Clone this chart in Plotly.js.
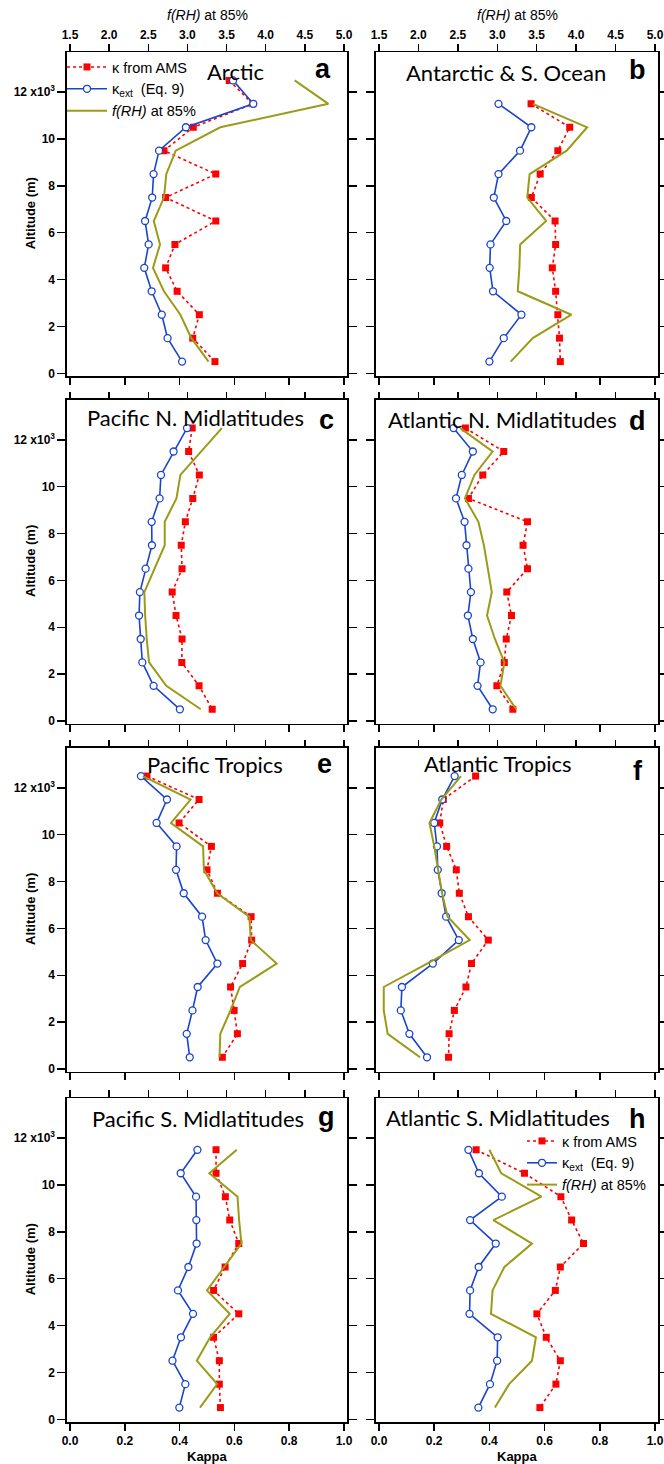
<!DOCTYPE html>
<html>
<head>
<meta charset="utf-8">
<script src="https://cdn.plot.ly/plotly-3.0.1.min.js"></script>
<style>html,body{margin:0;padding:0;background:#fff;}#chart{width:664px;height:1464px;}</style>
</head>
<body>
<div id="chart"></div>
<script>
// ---------------- DATA ----------------
const ALT13 = [12500, 11500, 10500, 9500, 8500, 7500, 6500, 5500, 4500, 3500, 2500, 1500, 500];
const ALT12 = [11500, 10500, 9500, 8500, 7500, 6500, 5500, 4500, 3500, 2500, 1500, 500];

// a  Arctic
const arcticAMS = [0.581, 0.667, 0.450, 0.343, 0.532, 0.349, 0.532, 0.383, 0.349, 0.391, 0.472, 0.448, 0.529];
const arcticExt = [0.595, 0.669, 0.423, 0.325, 0.305, 0.300, 0.274, 0.287, 0.271, 0.298, 0.335, 0.356, 0.409];
const arcticFRH = [4.37, 4.80, 3.42, 2.85, 2.73, 2.70, 2.57, 2.65, 2.56, 2.70, 2.91, 3.05, 3.27];
// b  Antarctic & S. Ocean
const antarcticAMS = [0.551, 0.691, 0.648, 0.584, 0.552, 0.638, 0.640, 0.628, 0.640, 0.648, 0.654, 0.657];
const antarcticExt = [0.433, 0.552, 0.511, 0.433, 0.416, 0.461, 0.404, 0.401, 0.413, 0.516, 0.452, 0.400];
const antarcticFRH = [3.45, 4.14, 3.88, 3.41, 3.38, 3.62, 3.29, 3.28, 3.26, 3.94, 3.45, 3.17];
// c  Pacific N. Midlatitudes
const pacNAMS = [0.446, 0.433, 0.472, 0.448, 0.421, 0.406, 0.409, 0.373, 0.387, 0.409, 0.408, 0.471, 0.519];
const pacNExt = [0.427, 0.378, 0.332, 0.327, 0.298, 0.299, 0.276, 0.255, 0.252, 0.258, 0.264, 0.305, 0.401];
const pacNFRH = [3.44, 3.17, 2.91, 2.86, 2.71, 2.71, 2.58, 2.45, 2.46, 2.48, 2.51, 2.73, 3.17];
// d  Atlantic N. Midlatitudes
const atlNAMS = [0.313, 0.452, 0.376, 0.324, 0.538, 0.522, 0.538, 0.463, 0.480, 0.461, 0.454, 0.427, 0.485];
const atlNExt = [0.270, 0.340, 0.300, 0.279, 0.310, 0.317, 0.324, 0.333, 0.322, 0.340, 0.368, 0.357, 0.412];
const atlNFRH = [2.53, 2.94, 2.71, 2.59, 2.76, 2.83, 2.88, 2.93, 2.87, 2.97, 3.09, 3.04, 3.24];
// e  Pacific Tropics
const pacTAMS = [0.281, 0.471, 0.398, 0.516, 0.500, 0.538, 0.661, 0.663, 0.630, 0.586, 0.599, 0.611, 0.556];
const pacTExt = [0.259, 0.354, 0.316, 0.389, 0.387, 0.415, 0.482, 0.495, 0.538, 0.466, 0.447, 0.426, 0.437];
const pacTFRH = [2.43, 3.04, 2.79, 3.20, 3.21, 3.38, 3.79, 3.81, 4.14, 3.67, 3.55, 3.42, 3.41];
// f  Atlantic Tropics
const atlTAMS = [0.350, 0.233, 0.220, 0.245, 0.280, 0.291, 0.324, 0.396, 0.335, 0.315, 0.273, 0.254, 0.252];
const atlTExt = [0.274, 0.229, 0.200, 0.210, 0.213, 0.227, 0.243, 0.289, 0.195, 0.083, 0.079, 0.110, 0.174];
const atlTFRH = [2.54, 2.29, 2.14, 2.20, 2.25, 2.30, 2.37, 2.65, 2.11, 1.56, 1.56, 1.61, 2.02];
// g  Pacific S. Midlatitudes
const pacSAMS = [0.533, 0.533, 0.567, 0.583, 0.616, 0.566, 0.524, 0.616, 0.524, 0.545, 0.545, 0.549];
const pacSExt = [0.465, 0.404, 0.460, 0.461, 0.462, 0.432, 0.394, 0.449, 0.405, 0.374, 0.421, 0.399];
const pacSFRH = [3.63, 3.28, 3.64, 3.66, 3.69, 3.47, 3.25, 3.54, 3.29, 3.12, 3.38, 3.16];
// h  Atlantic S. Midlatitudes
const atlSAMS = [0.352, 0.527, 0.659, 0.698, 0.741, 0.657, 0.639, 0.572, 0.606, 0.657, 0.641, 0.583];
const atlSExt = [0.324, 0.362, 0.445, 0.330, 0.423, 0.361, 0.330, 0.328, 0.430, 0.428, 0.402, 0.360];
const atlSFRH = [2.90, 3.05, 3.56, 2.95, 3.44, 3.09, 2.94, 2.92, 3.49, 3.44, 3.15, 2.97];

const panelTitles = ['Arctic', 'Antarctic & S. Ocean', 'Pacific N. Midlatitudes', 'Atlantic N. Midlatitudes',
                     'Pacific Tropics', 'Atlantic Tropics', 'Pacific S. Midlatitudes', 'Atlantic S. Midlatitudes'];
const panelLetters = ['a', 'b', 'c', 'd', 'e', 'f', 'g', 'h'];
const yTickVals = [0, 2000, 4000, 6000, 8000, 10000, 12000];
const yTickText = ['0', '2', '4', '6', '8', '10', '12 x10<sup>3</sup>'];
const kappaTicks = [0, 0.2, 0.4, 0.6, 0.8, 1.0];
const frhTicks = [1.5, 2.0, 2.5, 3.0, 3.5, 4.0, 4.5, 5.0];
const seriesNames = ['κ from AMS', 'κ<sub>ext</sub>  (Eq. 9)', '<i>f(RH)</i> at 85%'];

const panels = [
  {alt: ALT13, ams: arcticAMS, ext: arcticExt, frh: arcticFRH},
  {alt: ALT12, ams: antarcticAMS, ext: antarcticExt, frh: antarcticFRH},
  {alt: ALT13, ams: pacNAMS, ext: pacNExt, frh: pacNFRH},
  {alt: ALT13, ams: atlNAMS, ext: atlNExt, frh: atlNFRH},
  {alt: ALT13, ams: pacTAMS, ext: pacTExt, frh: pacTFRH},
  {alt: ALT13, ams: atlTAMS, ext: atlTExt, frh: atlTFRH},
  {alt: ALT12, ams: pacSAMS, ext: pacSExt, frh: pacSFRH},
  {alt: ALT12, ams: atlSAMS, ext: atlSExt, frh: atlSFRH}
];

// ---------------- LAYOUT GEOMETRY ----------------
const W = 664, H = 1464;
const colX = [[67, 347], [376, 658]];           // frame left/right (px)
const rowZero = [373.3, 721, 1069, 1419.3];      // pixel of altitude 0
const pxPerM = 0.023433;
const yRange = [-120, 13700];
const pad = 3 / 274;
const kRange = [-pad, 1 + pad];
const fRange = [1.5 - 3.5 * pad, 5 + 3.5 * pad];

const titlePos = [[235, 71], [506, 72], [195, 417], [502, 419], [215, 764], [498, 763], [198, 1118], [498, 1117]];
const letterPos = [[333, 69], [648, 70], [336, 420], [648, 421], [334, 764], [645, 771], [337, 1117], [648, 1119]];

const RED = '#ff0000', BLUE = '#1b44cc', OLIVE = '#9c9a18';
const tickFont = {family: 'Liberation Sans, Arial, sans-serif', size: 12, color: '#000', weight: 'bold'};
const legendFont = {family: 'Liberation Sans, Arial, sans-serif', size: 14.5, color: '#000'};

const traces = [];
const layout = {
  width: W, height: H,
  margin: {l: 0, r: 0, t: 0, b: 0},
  paper_bgcolor: '#fff', plot_bgcolor: '#fff',
  showlegend: true,
  annotations: [],
  legend: {
    x: 62 / W, y: 1 - 51 / H, xanchor: 'left', yanchor: 'top',
    bgcolor: 'rgba(0,0,0,0)', borderwidth: 0, tracegroupgap: 0, itemwidth: 40,
    font: legendFont
  },
  legend2: {
    x: 522 / W, y: 1 - 1125 / H, xanchor: 'left', yanchor: 'top',
    bgcolor: 'rgba(0,0,0,0)', borderwidth: 0, tracegroupgap: 0, itemwidth: 30,
    font: legendFont
  }
};

panels.forEach((p, i) => {
  const row = Math.floor(i / 2), col = i % 2;
  const xk = 2 * i + 1, xf = 2 * i + 2, yi = i + 1;
  const xkName = 'x' + (xk === 1 ? '' : xk), xfName = 'x' + xf, yName = 'y' + (yi === 1 ? '' : yi);
  const top = rowZero[row] - yRange[1] * pxPerM;
  const bot = rowZero[row] - yRange[0] * pxPerM;
  const yDom = [1 - bot / H, 1 - top / H];
  const xDom = [colX[col][0] / W, colX[col][1] / W];

  layout['xaxis' + (xk === 1 ? '' : xk)] = {
    domain: xDom, anchor: yName, range: kRange, side: 'bottom',
    showline: true, linecolor: '#000', linewidth: 1.6, mirror: true,
    ticks: 'outside', ticklen: 7, tickwidth: 1.5, tickcolor: '#000',
    tickvals: kappaTicks, ticktext: kappaTicks.map(v => v.toFixed(1)),
    showticklabels: row === 3, tickfont: tickFont,
    showgrid: false, zeroline: false, fixedrange: true
  };
  layout['xaxis' + xf] = {
    overlaying: xkName, anchor: yName, range: fRange, side: 'top',
    showline: false, ticks: 'outside', ticklen: 7, tickwidth: 1.5, tickcolor: '#000',
    tickvals: frhTicks, ticktext: frhTicks.map(v => v.toFixed(1)),
    showticklabels: row === 0, tickfont: tickFont,
    showgrid: false, zeroline: false, fixedrange: true
  };
  layout['yaxis' + (yi === 1 ? '' : yi)] = {
    domain: yDom, anchor: xkName, range: yRange,
    showline: true, linecolor: '#000', linewidth: 1.6, mirror: 'ticks',
    ticks: 'outside', ticklen: 8, tickwidth: 1.5, tickcolor: '#000',
    tickvals: yTickVals, ticktext: yTickText,
    showticklabels: col === 0, tickfont: tickFont,
    showgrid: false, zeroline: false, fixedrange: true
  };

  const legId = i === 7 ? 'legend2' : 'legend';
  const showLeg = (i === 0 || i === 7);

  traces.push({
    type: 'scatter', mode: 'lines', x: p.frh, y: p.alt, xaxis: xfName, yaxis: yName,
    name: seriesNames[2], legend: legId, showlegend: showLeg, legendrank: 3,
    line: {color: OLIVE, width: 2}, hoverinfo: 'skip'
  });
  traces.push({
    type: 'scatter', mode: 'lines+markers', x: p.ams, y: p.alt, xaxis: xkName, yaxis: yName,
    name: seriesNames[0], legend: legId, showlegend: showLeg, legendrank: 1,
    line: {color: RED, width: 1.6, dash: 'dot'},
    marker: {symbol: 'square', size: 7, color: RED, line: {width: 0}}, hoverinfo: 'skip'
  });
  traces.push({
    type: 'scatter', mode: 'lines+markers', x: p.ext, y: p.alt, xaxis: xkName, yaxis: yName,
    name: seriesNames[1], legend: legId, showlegend: showLeg, legendrank: 2,
    line: {color: BLUE, width: 1.6},
    marker: {symbol: 'circle', size: 7, color: '#fff', line: {color: BLUE, width: 1.3}}, hoverinfo: 'skip'
  });

  layout.annotations.push({
    xref: 'paper', yref: 'paper', x: titlePos[i][0] / W, y: 1 - titlePos[i][1] / H,
    xanchor: 'center', yanchor: 'middle', showarrow: false, text: panelTitles[i],
    font: {family: 'Lato, Open Sans, sans-serif', size: 22, color: '#000'}
  });
  layout.annotations.push({
    xref: 'paper', yref: 'paper', x: letterPos[i][0] / W, y: 1 - letterPos[i][1] / H,
    xanchor: 'right', yanchor: 'middle', showarrow: false, text: '<b>' + panelLetters[i] + '</b>',
    font: {family: 'Liberation Sans, Arial, sans-serif', size: 27, color: '#000'}
  });
});

// axis titles
const axTitleFont = {family: 'Liberation Sans, Arial, sans-serif', size: 13, color: '#000'};
[207, 517].forEach(cx => {
  layout.annotations.push({
    xref: 'paper', yref: 'paper', x: cx / W, y: 1 - 15 / H, xanchor: 'center', yanchor: 'middle',
    showarrow: false, text: '<i>f(RH)</i> at 85%',
    font: {family: 'Liberation Sans, Arial, sans-serif', size: 14, color: '#000'}
  });
  layout.annotations.push({
    xref: 'paper', yref: 'paper', x: cx / W, y: 1 - 1456 / H, xanchor: 'center', yanchor: 'middle',
    showarrow: false, text: '<b>Kappa</b>', font: axTitleFont
  });
});
rowZero.forEach(z => {
  layout.annotations.push({
    xref: 'paper', yref: 'paper', x: 30 / W, y: 1 - (z - 160) / H, xanchor: 'center', yanchor: 'middle',
    showarrow: false, textangle: -90, text: '<b>Altitude (m)</b>', font: axTitleFont
  });
});

Plotly.newPlot('chart', traces, layout, {staticPlot: true, displayModeBar: false});
</script>
</body>
</html>
